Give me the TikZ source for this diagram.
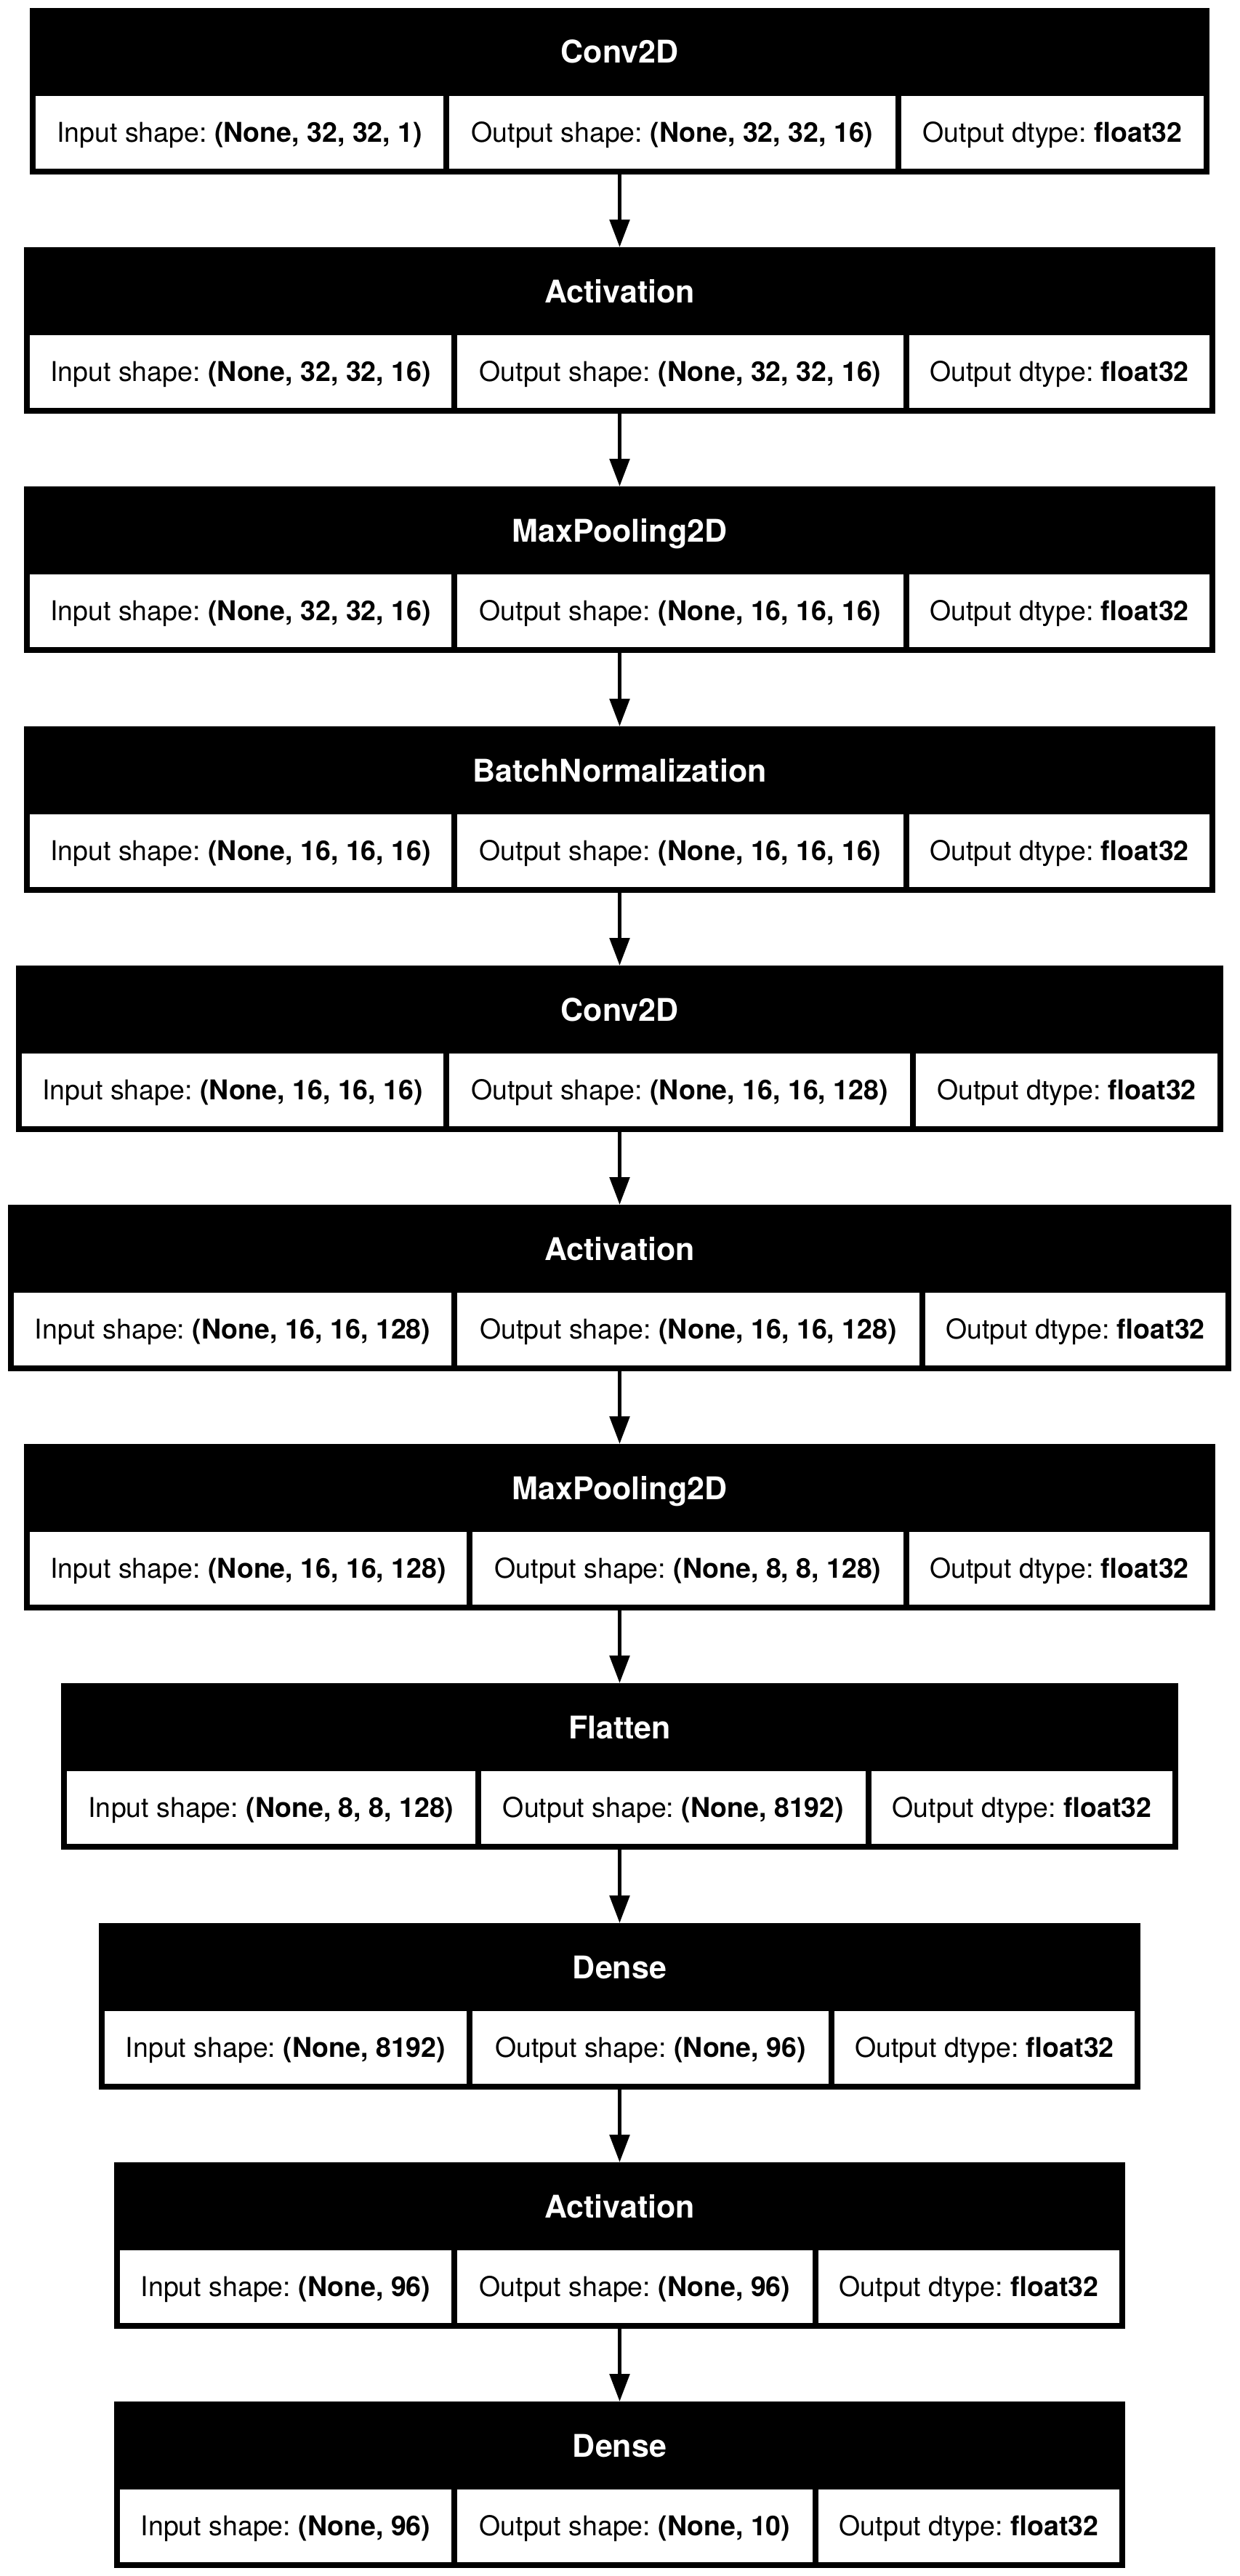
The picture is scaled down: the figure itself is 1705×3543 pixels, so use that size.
\documentclass[tikz,border=0pt]{standalone}
\usepackage{fontspec}
\setmainfont{TeX Gyre Heros}
\usetikzlibrary{arrows.meta}
\newcommand{\layerfont}{\fontsize{43}{50}\selectfont\bfseries}
\newcommand{\shapefont}{\fontsize{37.5}{45}\selectfont\frenchspacing}
\begin{document}
\begin{tikzpicture}[x=1pt, y=-1pt]
\tikzset{ >={Triangle[length=38pt,width=27pt]}, inner sep=0pt, outer sep=0pt,
  layer/.style={fill=black, minimum height=229pt},
  title/.style={text=white, font=\layerfont, text height=40pt, text depth=9pt},
  cell/.style={fill=white, minimum height=100pt, font=\shapefont, text height=36pt, text depth=9pt},
  flow/.style={->, line width=5.5pt},
}

\useasboundingbox (0,0) rectangle (1705,3543);

% layer frames
\node [layer, minimum width=1623pt] (conv1)  at (852.5,125.5)  {};
\node [layer, minimum width=1639pt] (act1)   at (852.5,454.5)  {};
\node [layer, minimum width=1639pt] (pool1)  at (852.5,783.5)  {};
\node [layer, minimum width=1639pt] (bn1)    at (852.5,1113.5) {};
\node [layer, minimum width=1661pt] (conv2)  at (852.5,1442.5) {};
\node [layer, minimum width=1683pt] (act2)   at (852.5,1771.5) {};
\node [layer, minimum width=1639pt] (pool2)  at (852.5,2100.5) {};
\node [layer, minimum width=1537pt] (flat)   at (852.5,2429.5) {};
\node [layer, minimum width=1433pt] (dense1) at (852.5,2759.5) {};
\node [layer, minimum width=1391pt] (act3)   at (852.5,3088.5) {};
\node [layer, minimum width=1391pt] (dense2) at (852.5,3417.5) {};

% layer names
\node [title] (conv1-n)  at (852.5,71.5)   {Conv2D};
\node [title] (act1-n)   at (852.5,400.5)  {Activation};
\node [title] (pool1-n)  at (852.5,729.5)  {MaxPooling2D};
\node [title] (bn1-n)    at (852.5,1059.5) {BatchNormalization};
\node [title] (conv2-n)  at (852.5,1388.5) {Conv2D};
\node [title] (act2-n)   at (852.5,1717.5) {Activation};
\node [title] (pool2-n)  at (852.5,2046.5) {MaxPooling2D};
\node [title] (flat-n)   at (852.5,2375.5) {Flatten};
\node [title] (dense1-n) at (852.5,2705.5) {Dense};
\node [title] (act3-n)   at (852.5,3034.5) {Activation};
\node [title] (dense2-n) at (852.5,3363.5) {Dense};

% shape cells
\node [cell, minimum width=561pt] (conv1-in)  at (329.5,182)  {Input shape: \textbf{(None, 32, 32, 1)}};
\node [cell, minimum width=614pt] (conv1-out) at (925,182)    {Output shape: \textbf{(None, 32, 32, 16)}};
\node [cell, minimum width=416pt] (conv1-dt)  at (1448,182)   {Output dtype: \textbf{float32}};

\node [cell, minimum width=580pt] (act1-in)   at (331,511)    {Input shape: \textbf{(None, 32, 32, 16)}};
\node [cell, minimum width=614pt] (act1-out)  at (936,511)    {Output shape: \textbf{(None, 32, 32, 16)}};
\node [cell, minimum width=413pt] (act1-dt)   at (1457.5,511) {Output dtype: \textbf{float32}};

\node [cell, minimum width=580pt] (pool1-in)  at (331,840)    {Input shape: \textbf{(None, 32, 32, 16)}};
\node [cell, minimum width=614pt] (pool1-out) at (936,840)    {Output shape: \textbf{(None, 16, 16, 16)}};
\node [cell, minimum width=413pt] (pool1-dt)  at (1457.5,840) {Output dtype: \textbf{float32}};

\node [cell, minimum width=580pt] (bn1-in)    at (331,1170)    {Input shape: \textbf{(None, 16, 16, 16)}};
\node [cell, minimum width=614pt] (bn1-out)   at (936,1170)    {Output shape: \textbf{(None, 16, 16, 16)}};
\node [cell, minimum width=413pt] (bn1-dt)    at (1457.5,1170) {Output dtype: \textbf{float32}};

\node [cell, minimum width=580pt] (conv2-in)  at (320,1499)    {Input shape: \textbf{(None, 16, 16, 16)}};
\node [cell, minimum width=634pt] (conv2-out) at (935,1499)    {Output shape: \textbf{(None, 16, 16, 128)}};
\node [cell, minimum width=415pt] (conv2-dt)  at (1467.5,1499) {Output dtype: \textbf{float32}};

\node [cell, minimum width=602pt] (act2-in)   at (320,1828)    {Input shape: \textbf{(None, 16, 16, 128)}};
\node [cell, minimum width=636pt] (act2-out)  at (947,1828)    {Output shape: \textbf{(None, 16, 16, 128)}};
\node [cell, minimum width=413pt] (act2-dt)   at (1479.5,1828) {Output dtype: \textbf{float32}};

\node [cell, minimum width=601pt] (pool2-in)  at (341.5,2157)  {Input shape: \textbf{(None, 16, 16, 128)}};
\node [cell, minimum width=593pt] (pool2-out) at (946.5,2157)  {Output shape: \textbf{(None, 8, 8, 128)}};
\node [cell, minimum width=413pt] (pool2-dt)  at (1457.5,2157) {Output dtype: \textbf{float32}};

\node [cell, minimum width=562pt] (flat-in)   at (373,2486)    {Input shape: \textbf{(None, 8, 8, 128)}};
\node [cell, minimum width=529pt] (flat-out)  at (926.5,2486)  {Output shape: \textbf{(None, 8192)}};
\node [cell, minimum width=414pt] (flat-dt)   at (1406,2486)   {Output dtype: \textbf{float32}};

\node [cell, minimum width=498pt] (dense1-in)  at (393,2816)    {Input shape: \textbf{(None, 8192)}};
\node [cell, minimum width=490pt] (dense1-out) at (895,2816)    {Output shape: \textbf{(None, 96)}};
\node [cell, minimum width=413pt] (dense1-dt)  at (1354.5,2816) {Output dtype: \textbf{float32}};

\node [cell, minimum width=456pt] (act3-in)   at (393,3145)    {Input shape: \textbf{(None, 96)}};
\node [cell, minimum width=489pt] (act3-out)  at (873.5,3145)  {Output shape: \textbf{(None, 96)}};
\node [cell, minimum width=414pt] (act3-dt)   at (1333,3145)   {Output dtype: \textbf{float32}};

\node [cell, minimum width=456pt] (dense2-in)  at (393,3474)    {Input shape: \textbf{(None, 96)}};
\node [cell, minimum width=489pt] (dense2-out) at (873.5,3474)  {Output shape: \textbf{(None, 10)}};
\node [cell, minimum width=414pt] (dense2-dt)  at (1333,3474)   {Output dtype: \textbf{float32}};

% data flow
\draw [flow] (conv1)  -- (act1);
\draw [flow] (act1)   -- (pool1);
\draw [flow] (pool1)  -- (bn1);
\draw [flow] (bn1)    -- (conv2);
\draw [flow] (conv2)  -- (act2);
\draw [flow] (act2)   -- (pool2);
\draw [flow] (pool2)  -- (flat);
\draw [flow] (flat)   -- (dense1);
\draw [flow] (dense1) -- (act3);
\draw [flow] (act3)   -- (dense2);
\end{tikzpicture}
\end{document}
